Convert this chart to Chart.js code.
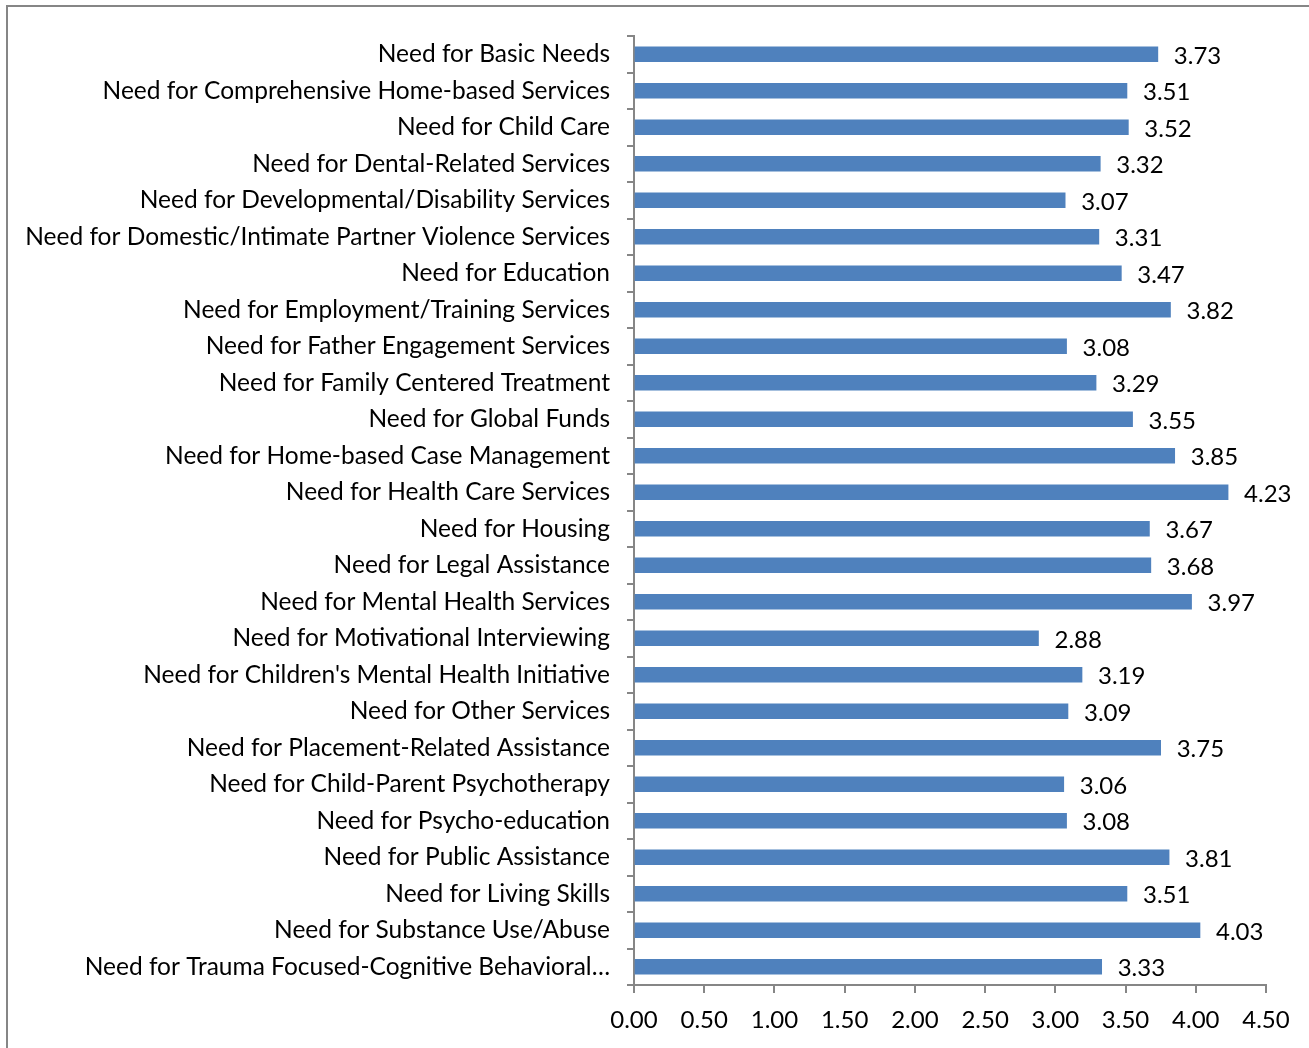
<!DOCTYPE html>
<html>
<head>
<meta charset="utf-8">
<script src="https://cdn.jsdelivr.net/npm/chart.js@4"></script>
<style>
  html, body { margin: 0; padding: 0; background: #fff; }
  #wrap { width: 1309px; height: 1048px; position: relative; }
</style>
</head>
<body>
<div id="wrap"><canvas id="myChart" width="1309" height="1048"></canvas></div>
<script>
const categories = [
  "Need for Basic Needs",
  "Need for Comprehensive Home-based Services",
  "Need for Child Care",
  "Need for Dental-Related Services",
  "Need for Developmental/Disability Services",
  "Need for Domestic/Intimate Partner Violence Services",
  "Need for Education",
  "Need for Employment/Training Services",
  "Need for Father Engagement Services",
  "Need for Family Centered Treatment",
  "Need for Global Funds",
  "Need for Home-based Case Management",
  "Need for Health Care Services",
  "Need for Housing",
  "Need for Legal Assistance",
  "Need for Mental Health Services",
  "Need for Motivational Interviewing",
  "Need for Children's Mental Health Initiative",
  "Need for Other Services",
  "Need for Placement-Related Assistance",
  "Need for Child-Parent Psychotherapy",
  "Need for Psycho-education",
  "Need for Public Assistance",
  "Need for Living Skills",
  "Need for Substance Use/Abuse",
  "Need for Trauma Focused-Cognitive Behavioral…"
];

const values = [
  3.73, 3.51, 3.52, 3.32, 3.07, 3.31, 3.47, 3.82, 3.08, 3.29, 3.55, 3.85, 4.23,
  3.67, 3.68, 3.97, 2.88, 3.19, 3.09, 3.75, 3.06, 3.08, 3.81, 3.51, 4.03, 3.33
];

const xMin = 0;
const xMax = 4.5;
const xStep = 0.5;

const fontFamily = "Lato, 'Open Sans', sans-serif";
const axisColor = "#868686";

// frame around the chart, only top and left edges are visible
const framePlugin = {
  id: "frame",
  beforeDraw(chart) {
    const ctx = chart.ctx;
    ctx.save();
    ctx.strokeStyle = axisColor;
    ctx.lineWidth = 2;
    ctx.beginPath();
    ctx.moveTo(7, 1048);
    ctx.lineTo(7, 6);
    ctx.lineTo(1309, 6);
    ctx.stroke();
    ctx.restore();
  }
};

// value labels at bar ends
const valueLabels = {
  id: "valueLabels",
  afterDatasetsDraw(chart) {
    const ctx = chart.ctx;
    const meta = chart.getDatasetMeta(0);
    ctx.save();
    ctx.font = "24px " + fontFamily;
    ctx.fillStyle = "#000";
    ctx.textAlign = "left";
    ctx.textBaseline = "middle";
    meta.data.forEach((bar, i) => {
      ctx.fillText(values[i].toFixed(2), bar.x + 16, bar.y + 2);
    });
    ctx.restore();
  }
};

let myChart = new Chart(document.getElementById("myChart"), {
  type: "bar",
  data: {
    labels: categories,
    datasets: [{
      data: values,
      backgroundColor: "#4F81BD",
      borderWidth: 0,
      barThickness: 15
    }]
  },
  options: {
    indexAxis: "y",
    responsive: false,
    animation: false,
    layout: { padding: { top: 36, right: 43, left: 0, bottom: 0 } },
    plugins: {
      legend: { display: false },
      tooltip: { enabled: false }
    },
    scales: {
      y: {
        offset: true,
        border: { color: axisColor, width: 2 },
        grid: { drawOnChartArea: false, offset: true, tickLength: 7, color: axisColor, lineWidth: 2 },
        ticks: { color: "#000", font: { family: fontFamily, size: 24.5 }, padding: 17, autoSkip: false },
        afterFit(scale) { scale.width = 634; }
      },
      x: {
        min: xMin,
        max: xMax,
        border: { color: axisColor, width: 2 },
        grid: { drawOnChartArea: false, tickLength: 8, color: axisColor, lineWidth: 2 },
        ticks: {
          stepSize: xStep,
          color: "#000",
          font: { family: fontFamily, size: 24 },
          padding: 13,
          callback: (v) => Number(v).toFixed(2)
        },
        afterFit(scale) { scale.height = 63; }
      }
    }
  },
  plugins: [framePlugin, valueLabels]
});
</script>
</body>
</html>
